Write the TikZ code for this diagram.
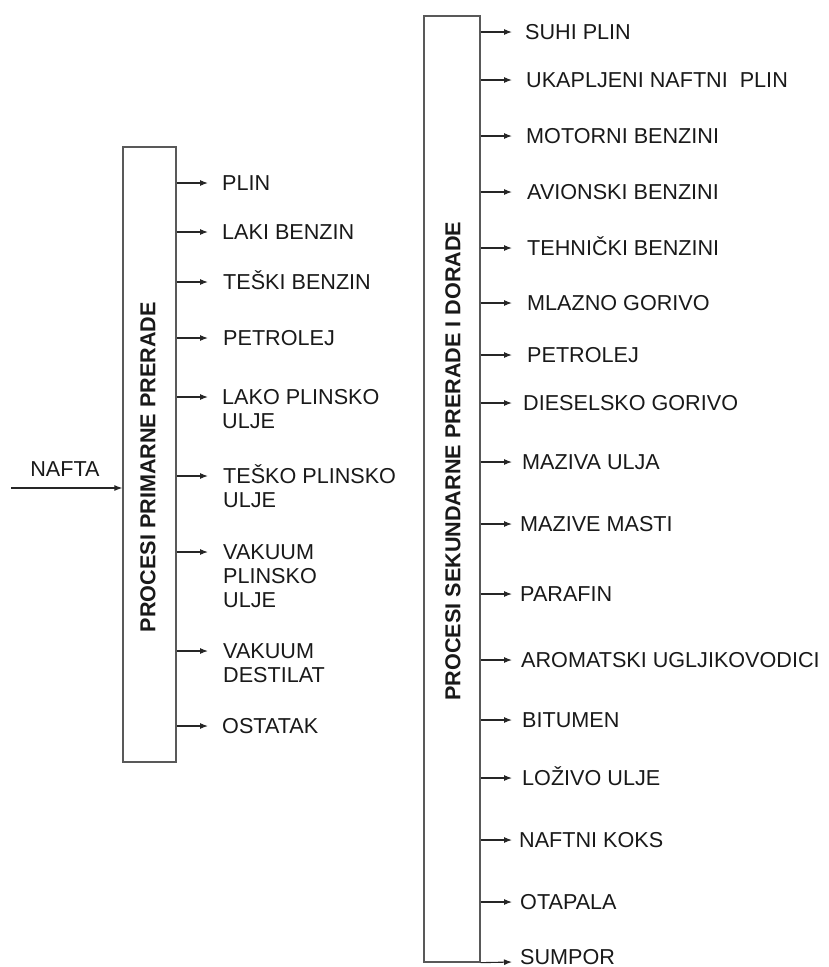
\documentclass[tikz,border=0pt]{standalone}
\usepackage{fontspec}
\setmainfont{Liberation Sans}
\usetikzlibrary{arrows.meta}
\begin{document}
\begin{tikzpicture}[x=1pt,y=-1pt,
  box/.style={draw=black!65,line width=1.3pt,inner sep=0pt},
  outarrow/.style={draw=black!85,line width=1.1pt,-{Latex[length=8pt,width=6pt]}},
  item/.style={anchor=base west,inner sep=0pt,align=left,text=black!90,font=\fontsize{21.6}{24}\selectfont},
  boxlabel/.style={rotate=90,inner sep=0pt,text=black!90,font=\fontsize{21.6}{24}\selectfont\bfseries}]
\useasboundingbox (0,0) rectangle (828,967);
\fill[white] (0,0) rectangle (828,967);

% boxes
\node[box,minimum width=53pt,minimum height=615pt] (prim) at (149.5,454.5) {};
\node[box,minimum width=56pt,minimum height=946pt] (sek) at (452,489) {};
\node[boxlabel] (primlabel) at (148,467) {PROCESI PRIMARNE PRERADE};
\node[boxlabel] (seklabel) at (453,461) {PROCESI SEKUNDARNE PRERADE I DORADE};

% input
\node[item,anchor=base] (nafta) at (65,476.5) {NAFTA};
\coordinate (naftain) at (11,488);
\draw[outarrow] (naftain) -- (prim.west |- naftain);

% primary outputs (k = number of lines; base anchor is the last line)
\foreach \n/\y/\x/\k/\t in {
  1/183/222/1/{PLIN},
  2/232/222/1/{LAKI BENZIN},
  3/282/223/1/{TEŠKI BENZIN},
  4/338/223/1/{PETROLEJ},
  5/397/222/2/{LAKO PLINSKO\\ULJE},
  6/476/223/2/{TEŠKO PLINSKO\\ULJE},
  7/552/223/3/{VAKUUM\\PLINSKO\\ULJE},
  8/651/223/2/{VAKUUM\\DESTILAT},
  9/726/222/1/{OSTATAK}}{
  \coordinate (lt\n) at (208,\y);
  \node[item] (l\n) at (\x,\y+7.7+24*\k-24) {\t};
  \draw[outarrow] (prim.east |- lt\n) -- (lt\n);
}

% secondary outputs
\foreach \n/\y/\x/\t in {
  1/32/525/{SUHI PLIN},
  2/80/526/{UKAPLJENI NAFTNI\ \ PLIN},
  3/136/526/{MOTORNI BENZINI},
  4/192/527/{AVIONSKI BENZINI},
  5/248/527/{TEHNIČKI BENZINI},
  6/303/527/{MLAZNO GORIVO},
  7/355/527/{PETROLEJ},
  8/403/523/{DIESELSKO GORIVO},
  9/462/522/{MAZIVA ULJA},
  10/524/520/{MAZIVE MASTI},
  11/594/520/{PARAFIN},
  12/660/521/{AROMATSKI UGLJIKOVODICI},
  13/720/522/{BITUMEN},
  14/778/522/{LOŽIVO ULJE},
  15/840/519/{NAFTNI KOKS},
  16/902/520/{OTAPALA}}{
  \coordinate (rt\n) at (512,\y);
  \node[item] (r\n) at (\x,\y+7.7) {\t};
  \draw[outarrow] (sek.east |- rt\n) -- (rt\n);
}
\coordinate (rt17) at (512,962);
\node[item] (r17) at (520,964) {SUMPOR};
\draw[outarrow] (sek.south east) -- (rt17);
\end{tikzpicture}
\end{document}
